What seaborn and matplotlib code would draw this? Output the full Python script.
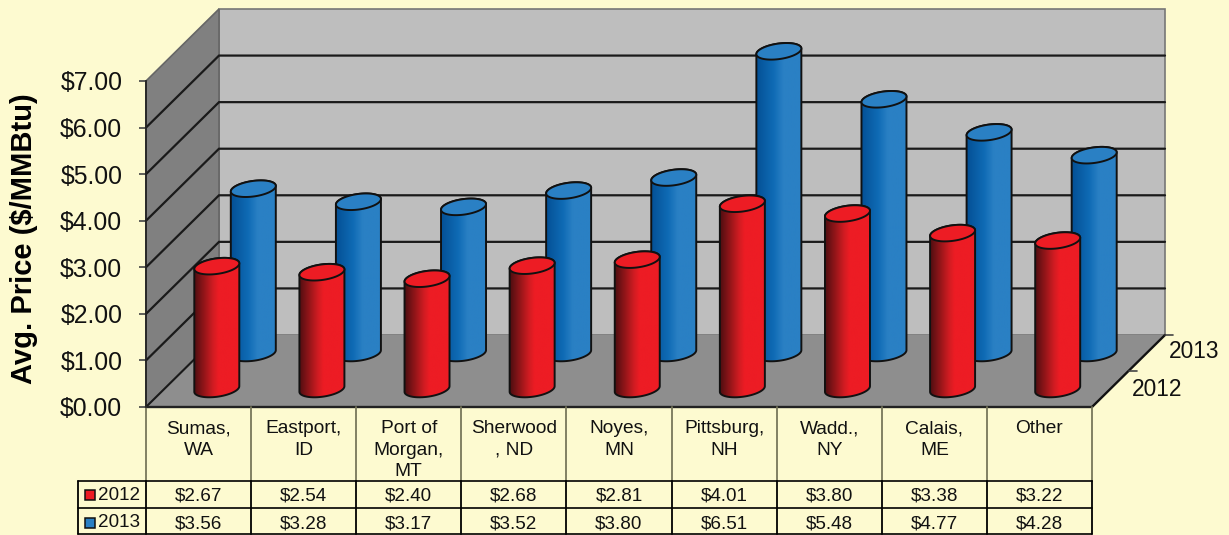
"""Average import price by border point, drawn as a 3-D style cylinder chart."""

import numpy as np
import pandas as pd
import matplotlib
matplotlib.use('Agg')
import matplotlib.pyplot as plt
from matplotlib.colors import LinearSegmentedColormap
from matplotlib.patches import Polygon, Rectangle
import seaborn as sns

# Data
PLACES = ["Sumas,\nWA", "Eastport,\nID", "Port of\nMorgan,\nMT", "Sherwood\n, ND", "Noyes,\nMN",
          "Pittsburg,\nNH", "Wadd.,\nNY", "Calais,\nME", "Other"]
PRICE_2012 = [2.67, 2.54, 2.40, 2.68, 2.81, 4.01, 3.80, 3.38, 3.22]
PRICE_2013 = [3.56, 3.28, 3.17, 3.52, 3.80, 6.51, 5.48, 4.77, 4.28]
YEARS = ["2012", "2013"]
PRICE_TICKS = [0, 1, 2, 3, 4, 5, 6, 7]

# Layout (pixels of the 1229x535 figure)
W, H = 1229, 535
LEFT, RIGHT, FLOOR, TOP = 146, 1092, 407, 81
CAT_PX = (RIGHT - LEFT) / 9
UNIT_PX = (FLOOR - TOP) / 7
DEPTH_X, DEPTH_Y = 73, 72
BAR_PX = 45
ELL_B, ELL_SHEAR = 7.8, 0.125
CAP_DROP_PX = 1.5  # caps sit a little below the value line

BG = "#FDFAD0"
RED = "#ED1C24"
BLUE = "#2A80C4"
CMAPS = {
    "2012": LinearSegmentedColormap.from_list("r", [(0, "#4F0E10"), (0.42, "#D01C22"), (0.55, RED), (1, RED)]),
    "2013": LinearSegmentedColormap.from_list("b", [(0, "#045095"), (0.38, "#0F6BB5"), (0.6, BLUE), (1, BLUE)]),
}
SERIES_DEPTH = {"2012": 0.25, "2013": 0.75}
FILLS = {"2012": RED, "2013": BLUE}


def deep(x, y, d):
    # data position moved d of the way towards the back wall
    return x + d * DEPTH_X / CAT_PX, y + d * DEPTH_Y / UNIT_PX


def px(xp, yp):
    # figure pixel to data position
    return (xp - LEFT) / CAT_PX - 0.5, (FLOOR - yp) / UNIT_PX


def ellipse_pts(cx, cy, t):
    a = BAR_PX / 2
    u = a * np.cos(t)
    v = ELL_B * np.sin(t) + ELL_SHEAR * u
    return np.column_stack([cx + u / CAT_PX, cy + v / UNIT_PX])


def draw_cylinder(ax, bar, year, z):
    cx = bar.get_x() + bar.get_width() / 2
    cx, base = deep(cx, 0, SERIES_DEPTH[year])
    top = base + bar.get_height() - CAP_DROP_PX / UNIT_PX
    bar.set_visible(False)

    lower = ellipse_pts(cx, base, np.linspace(np.pi, 2 * np.pi, 40))
    upper = ellipse_pts(cx, top, np.linspace(0, np.pi, 40))
    body = Polygon(np.vstack([lower, upper]), closed=True, facecolor="none", edgecolor="#111111",
                   lw=1.4, zorder=z + 0.2, clip_on=False, joinstyle="round")
    ax.add_patch(body)

    half = BAR_PX / 2 / CAT_PX
    grad = np.linspace(0, 1, 128).reshape(1, -1)
    im = ax.imshow(grad, cmap=CMAPS[year], aspect="auto", zorder=z,
                   extent=(cx - half, cx + half, base - 1, top + 1))
    # the cylinders stand outside the front-plane axes, so clip to the figure
    im.set_clip_box(ax.figure.bbox)
    im.set_clip_path(body)

    cap = Polygon(ellipse_pts(cx, top, np.linspace(0, 2 * np.pi, 80)), closed=True, facecolor=FILLS[year],
                  edgecolor="#111111", lw=1.4, zorder=z + 0.3, clip_on=False)
    ax.add_patch(cap)


def draw_walls(ax):
    x0, x1 = -0.5, 8.5
    back = [deep(x0, 0, 1), deep(x1, 0, 1), deep(x1, 7, 1), deep(x0, 7, 1)]
    side = [(x0, 0), deep(x0, 0, 1), deep(x0, 7, 1), (x0, 7)]
    floor = [(x0, 0), (x1, 0), deep(x1, 0, 1), deep(x0, 0, 1)]
    ax.add_patch(Polygon(back, facecolor="#BEBEBE", edgecolor="#777777", lw=1.2, zorder=1, clip_on=False))
    ax.add_patch(Polygon(side, facecolor="#808080", edgecolor="#666666", lw=1.2, zorder=1, clip_on=False))
    ax.add_patch(Polygon(floor, facecolor="#8E8E8E", edgecolor="none", zorder=1.1, clip_on=False))

    for v in PRICE_TICKS[:-1]:
        a, b, c = (x0, v), deep(x0, v, 1), deep(x1, v, 1)
        if v == 0:
            # the floor has no back line, only the slanted edge on the left
            ax.plot([a[0], b[0]], [a[1], b[1]], color="#1A1A1A", lw=1.5, zorder=2, clip_on=False)
            continue
        ax.plot([a[0], b[0], c[0]], [a[1], b[1], c[1]], color="#1A1A1A", lw=1.6, zorder=1.5,
                clip_on=False, solid_joinstyle="miter")

    # front edge of the floor and the depth axis on the right
    a, b = (x1, 0), deep(x1, 0, 1)
    ax.plot([x0, x1], [0, 0], color="#222222", lw=1.7, zorder=5, clip_on=False)
    ax.plot([a[0], b[0]], [a[1], b[1]], color="#111111", lw=1.7, zorder=5, clip_on=False)
    for d in (0.5, 1):
        s = deep(x1, 0, d)
        ax.plot([s[0], s[0] + 8 / CAT_PX], [s[1], s[1]], color="#444444", lw=1.2, clip_on=False, zorder=5)


def draw_data_table(ax):
    ys = [481, 508, 534]
    edges = np.arange(10) - 0.5
    for e in edges:
        ax.plot([e, e], [px(0, FLOOR)[1], px(0, ys[0])[1]], color="#77775A", lw=1.3, clip_on=False, zorder=5)
        ax.plot([e, e], [px(0, ys[0])[1], px(0, ys[2])[1]], color="black", lw=1.3, clip_on=False, zorder=5)
    key_left = px(78, 0)[0]
    ax.plot([key_left, key_left], [px(0, ys[0])[1], px(0, ys[2])[1]], color="black", lw=1.3, clip_on=False, zorder=5)
    for y in ys:
        ax.plot([key_left, 8.5], [px(0, y)[1]] * 2, color="black", lw=1.2, clip_on=False, zorder=5)

    for i, name in enumerate(PLACES):
        ax.text(i, px(0, 420)[1], name, ha="center", va="top", fontsize=13.8, color="#111111",
                linespacing=1.36, clip_on=False)
    rows = {"2012": PRICE_2012, "2013": PRICE_2013}
    for year, y0 in zip(YEARS, [496, 523.5]):
        yy = px(0, y0)[1]
        for i, v in enumerate(rows[year]):
            ax.text(i, yy, f"${v:.2f}", ha="center", va="center", fontsize=13.6, color="#111111")
        kx, ky = px(85, y0 + 4)
        ax.add_patch(Rectangle((kx, ky), 9.5 / CAT_PX, 10 / UNIT_PX, facecolor=FILLS[year], edgecolor="#111111",
                               lw=1.1, clip_on=False, zorder=6))
        ax.text(px(98, 0)[0], yy - 1 / UNIT_PX * -1, year, ha="left", va="center", fontsize=13.6, color="#111111")


def main():
    sns.set_theme(style="white")
    plt.rcParams['font.family'] = ['Liberation Sans', 'DejaVu Sans']

    long_df = pd.DataFrame({
        "place": PLACES * 2,
        "year": ["2012"] * len(PLACES) + ["2013"] * len(PLACES),
        "price": PRICE_2012 + PRICE_2013,
    })

    fig = plt.figure(figsize=(W / 100, H / 100), dpi=100, facecolor=BG)
    ax = fig.add_axes([LEFT / W, 1 - FLOOR / H, (RIGHT - LEFT) / W, (FLOOR - TOP) / H])
    ax.patch.set_alpha(0)

    sns.barplot(data=long_df, x="place", y="price", hue="year", hue_order=["2013", "2012"], dodge=False,
                width=BAR_PX / CAT_PX, errorbar=None, legend=False, ax=ax)

    draw_walls(ax)
    # back row first so the 2012 cylinders sit in front
    for container, year, z in zip(ax.containers, ["2013", "2012"], [3, 4]):
        for bar in container:
            draw_cylinder(ax, bar, year, z)

    ax.set_xlim(-0.5, 8.5)
    ax.set_ylim(0, 7)
    ax.set_xticks([])
    ax.set_xlabel("")
    ax.set_yticks(PRICE_TICKS)
    ax.set_yticklabels([f"${v}.00" for v in PRICE_TICKS], fontsize=17.8, color="#111111")
    ax.tick_params(axis="y", left=True, length=5, width=1.2, color="#444444", pad=12)
    ax.set_ylabel("Avg. Price ($/MMBtu)", fontsize=21, fontweight="bold", color="black")
    ax.yaxis.set_label_coords((38 - LEFT) / (RIGHT - LEFT), (FLOOR - 239) / (FLOOR - TOP))
    for name, spine in ax.spines.items():
        spine.set_visible(name == "left")
    ax.spines["left"].set_color("#222222")
    ax.spines["left"].set_linewidth(1.3)
    ax.spines["left"].set_zorder(5)

    ax.text(*px(1194, 352), "2013", ha="center", va="center", fontsize=16.4, color="#111111")
    ax.text(*px(1157, 390), "2012", ha="center", va="center", fontsize=16.4, color="#111111")

    draw_data_table(ax)

    fig.savefig("out.png", dpi=100, facecolor=BG)
    plt.close(fig)


if __name__ == "__main__":
    main()
